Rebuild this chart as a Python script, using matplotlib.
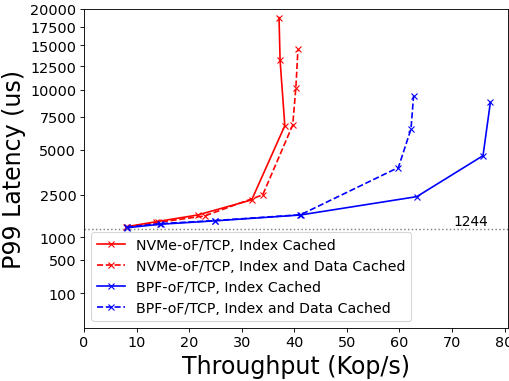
import matplotlib
matplotlib.use('Agg')
import matplotlib.pyplot as plt
import numpy as np

# throughput (Kop/s) and P99 latency (us) per configuration
nvme_idx_x = [8.0, 13.7, 21.6, 31.9, 38.2, 37.3, 37.1]
nvme_idx_y = [1300, 1460, 1690, 2280, 6770, 13190, 18770]

nvme_data_x = [8.2, 14.1, 23.0, 34.0, 39.7, 40.3, 40.7]
nvme_data_y = [1300, 1440, 1660, 2500, 6820, 10190, 14510]

bpf_idx_x = [8.1, 14.5, 24.9, 41.1, 63.3, 75.9, 77.3]
bpf_idx_y = [1270, 1380, 1490, 1690, 2420, 4620, 8780]

bpf_data_x = [8.2, 14.6, 25.0, 41.2, 59.8, 62.2, 62.7]
bpf_data_y = [1290, 1400, 1500, 1700, 3900, 6510, 9420]

baseline = 1244
yticks = [100, 500, 1000, 2500, 5000, 7500, 10000, 12500, 15000, 17500, 20000]

p = 0.42
fwd = lambda v: np.sign(v) * np.abs(v) ** p
inv = lambda v: np.sign(v) * np.abs(v) ** (1 / p)

fig = plt.figure(figsize=(6.4, 4.8))
ax = fig.add_axes([0.165, 0.139, 0.8325, 0.835])

ax.plot(nvme_idx_x, nvme_idx_y, 'r-x', label='NVMe-oF/TCP, Index Cached')
ax.plot(nvme_data_x, nvme_data_y, 'r--x', label='NVMe-oF/TCP, Index and Data Cached')
ax.plot(bpf_idx_x, bpf_idx_y, 'b-x', label='BPF-oF/TCP, Index Cached')
ax.plot(bpf_data_x, bpf_data_y, 'b--x', label='BPF-oF/TCP, Index and Data Cached')

ax.axhline(baseline, color='gray', linestyle=':', linewidth=1.3)
ax.text(70.3, baseline * 1.01, str(baseline), fontsize=12.5, va='bottom')

ax.set_yscale('function', functions=(fwd, inv))
ax.set_ylim(0, 20000)
ax.set_yticks(yticks)
ax.set_yticklabels([str(t) for t in yticks])
ax.set_xlim(0, 80.6)
ax.set_xticks(range(0, 81, 10))
ax.tick_params(labelsize=13)

ax.set_xlabel('Throughput (Kop/s)', fontsize=21.5)
ax.set_ylabel('P99 Latency (us)', fontsize=21.5)
ax.legend(loc='lower left', fontsize=12.8)

fig.savefig('out.png', dpi=509 / 6.4)
